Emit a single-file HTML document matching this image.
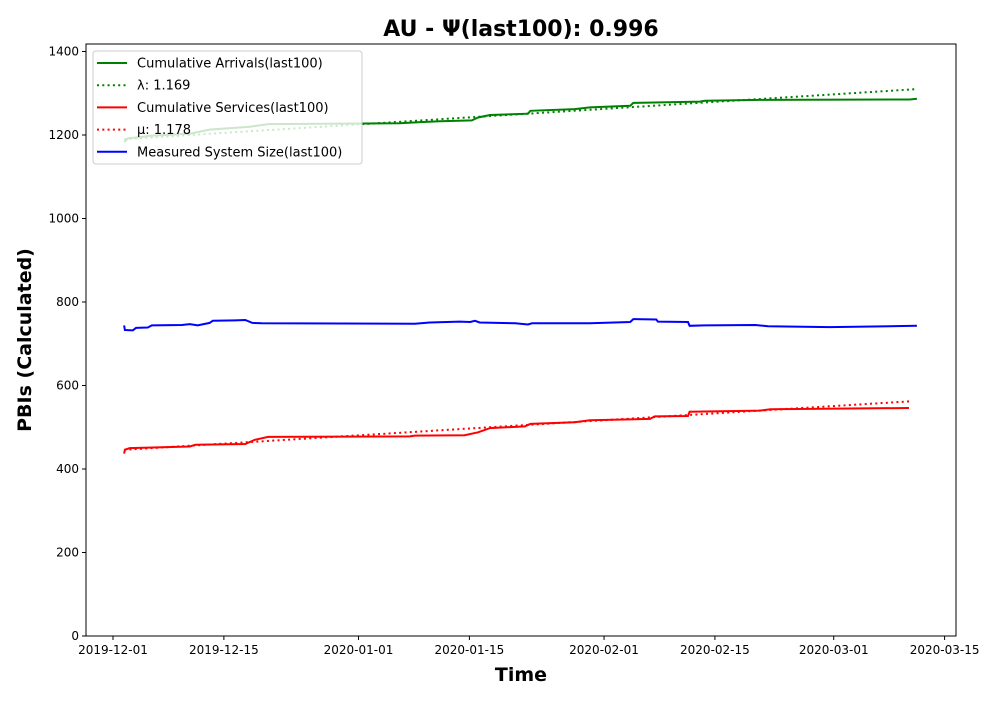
<!DOCTYPE html>
<html><head><meta charset="utf-8"><style>
body{margin:0;background:#fff;font-family:"Liberation Sans","DejaVu Sans",sans-serif}
text{font-family:"DejaVu Sans","Liberation Sans",sans-serif}
</style></head><body>
<svg id="chart" width="1000" height="700" xmlns="http://www.w3.org/2000/svg">
<rect width="1000" height="700" fill="#fff"/>
<text x="521" y="36" text-anchor="middle" font-size="22" font-weight="bold">AU -  Ψ(last100): 0.996</text>
<g id="plot"></g>
<text x="521" y="681" text-anchor="middle" font-size="19" font-weight="bold">Time</text>
<text transform="translate(31,340) rotate(-90)" text-anchor="middle" font-size="19" font-weight="bold">PBIs (Calculated)</text>
</svg>
<script>
const xTickLabels=["2019-12-01","2019-12-15","2020-01-01","2020-01-15","2020-02-01","2020-02-15","2020-03-01","2020-03-15"];
const xTickDays=[0,14,31,45,62,76,91,105];
const yTicks=[0,200,400,600,800,1000,1200,1400];
const arrDays=[1.4,1.9,3.4,4.7,9.7,12.2,17.3,19.6,36.2,38.8,41.3,45.3,46.1,47.6,52.4,52.7,58.3,60.2,65.3,65.7,74.1,74.7,81.7,100.6,101.5];
const arrVals=[1183,1192,1195,1198,1203,1213,1220,1226,1228,1231,1233,1235,1242,1248,1251,1258,1262,1266,1270,1277,1280,1282,1284,1285,1287];
const lamDays=[1.4,101.5];
const lamVals=[1190,1310];
const svcDays=[1.4,1.5,2.1,9.7,10.4,16.7,17.9,19.6,37.5,38.1,44.4,46.1,47.6,52,52.7,58.3,60.2,67.8,68.4,72.6,72.8,81.7,83,100.5];
const svcVals=[437,446,450,454,458,460,470,477,478,480,481,488,498,502,508,512,517,520,526,527,537,540,543,546];
const muDays=[1.4,100.5];
const muVals=[446,562];
const sysDays=[1.4,1.5,2.5,2.9,4.4,4.9,8.7,9.7,10.7,12.2,12.6,15.4,16.7,17.6,18.8,38.1,40,43.8,45.1,45.7,46.3,50.8,52.4,52.9,56.4,60.2,65.3,65.7,68.6,68.8,72.6,72.8,74.7,81.1,82.7,90.5,101.5];
const sysVals=[744,733,732,738,739,744,745,747,744,750,755,756,757,750,749,748,751,753,752,755,751,749,746,749,749,749,752,759,758,753,752,743,744,745,742,740,743];

const L=86,R=956,T=44,B=636;
const xs=d=>113+d*7.92;
const ys=v=>B-v*0.4175;
const NS="http://www.w3.org/2000/svg";
const g=document.getElementById('plot');
function mk(t,a){const e=document.createElementNS(NS,t);for(const k in a)e.setAttribute(k,a[k]);g.appendChild(e);return e;}
function line(days,vals,color,dash,name){
  const p=days.map((d,i)=>xs(d).toFixed(1)+','+ys(vals[i]).toFixed(1)).join(' ');
  const e=mk('polyline',{points:p,fill:'none',stroke:color,'stroke-width':2});
  if(dash)e.setAttribute('stroke-dasharray','2,3.3');
  
  
}
line(arrDays,arrVals,'#008000',false,'cumulative-arrivals-line');
line(lamDays,lamVals,'#008000',true,'lambda-fit-line');
line(svcDays,svcVals,'#ff0000',false,'cumulative-services-line');
line(muDays,muVals,'#ff0000',true,'mu-fit-line');
line(sysDays,sysVals,'#0000ff',false,'system-size-line');
const fr=mk('rect',{x:L,y:T,width:R-L,height:B-T,fill:'none',stroke:'#000','stroke-width':1});


yTicks.forEach(v=>{
  const y=ys(v);
  mk('line',{x1:L-4,x2:L,y1:y,y2:y,stroke:'#000'});
  const t=mk('text',{x:L-7,y:y+4,'text-anchor':'end','font-size':12});
  t.textContent=v;
  
  
});
xTickDays.forEach((d,i)=>{
  const x=xs(d);
  mk('line',{x1:x,x2:x,y1:B,y2:B+4,stroke:'#000'});
  const t=mk('text',{x:x,y:B+18,'text-anchor':'middle','font-size':12});
  t.textContent=xTickLabels[i];
  
  
});
const lg=mk('rect',{x:93,y:51,width:269,height:113,rx:3,fill:'rgba(255,255,255,0.8)',stroke:'#ccc'});


const entries=[["Cumulative Arrivals(last100)","#008000",false],["λ: 1.169","#008000",true],["Cumulative Services(last100)","#ff0000",false],["μ: 1.178","#ff0000",true],["Measured System Size(last100)","#0000ff",false]];
entries.forEach((e,i)=>{
  const y=63+i*22.2;
  const l=mk('line',{x1:97,x2:127,y1:y,y2:y,stroke:e[1],'stroke-width':2});
  if(e[2])l.setAttribute('stroke-dasharray','2,3.3');
  const t=mk('text',{x:137,y:y+4.5,'font-size':13});
  t.textContent=e[0];
  
  
});
</script>
</body></html>
